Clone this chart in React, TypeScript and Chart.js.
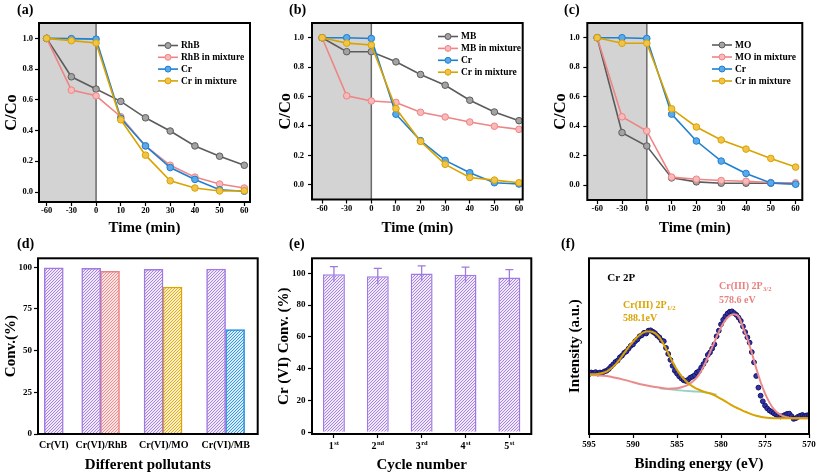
import React, { useEffect, useRef } from 'react';
import { Chart, registerables } from 'chart.js';

Chart.register(...registerables);

const SERIF = "'Liberation Serif', 'Times New Roman', Times, serif";

// ---------------- data: panels (a)-(c) ----------------
const timeLabels = ['-60', '-30', '0', '10', '20', '30', '40', '50', '60'];
const concTicks = [0, 0.2, 0.4, 0.6, 0.8, 1.0];

const rhb = [1.0, 0.75, 0.67, 0.59, 0.483, 0.397, 0.3, 0.233, 0.174];
const rhbMix = [1.0, 0.663, 0.626, 0.49, 0.3, 0.174, 0.097, 0.052, 0.026];
const crA = [1.0, 0.998, 0.995, 0.48, 0.3, 0.159, 0.082, 0.015, 0.005];
const crMixA = [1.0, 0.985, 0.97, 0.47, 0.24, 0.073, 0.026, 0.007, 0.008];

const mb = [1.0, 0.905, 0.905, 0.836, 0.75, 0.677, 0.575, 0.495, 0.436];
const mbMix = [1.0, 0.605, 0.57, 0.56, 0.493, 0.461, 0.427, 0.398, 0.377];
const crB = [1.0, 1.0, 0.995, 0.48, 0.3, 0.166, 0.082, 0.014, 0.005];
const crMixB = [1.0, 0.963, 0.95, 0.518, 0.295, 0.139, 0.05, 0.032, 0.014];

const mo = [1.0, 0.357, 0.266, 0.05, 0.023, 0.014, 0.014, 0.014, 0.01];
const moMix = [1.0, 0.464, 0.368, 0.055, 0.041, 0.032, 0.027, 0.018, 0.016];
const crC = [1.0, 1.0, 0.995, 0.482, 0.3, 0.164, 0.08, 0.016, 0.007];
const crMixC = [1.0, 0.963, 0.963, 0.518, 0.395, 0.307, 0.245, 0.182, 0.123];

// ---------------- data: panel (d) ----------------
const pollutants = ['Cr(VI)', 'Cr(VI)/RhB', 'Cr(VI)/MO', 'Cr(VI)/MB'];
const pollutantTickPos = [0.83, 3.33, 6.62, 9.88];
const crConvPos = [0.83, 2.8, 6.08, 9.37];
const crConv = [99.7, 99.4, 98.8, 99.0];
const dyeConvPos = [3.79, 7.08, 10.37];
const dyeConv = [97.6, 88.2, 62.6];
const convTicks = [0, 25, 50, 75, 100];

// ---------------- data: panel (e) ----------------
const cycleNum = ['1', '2', '3', '4', '5'];
const cycleSup = ['st', 'nd', 'rd', 'st', 'st'];
const cycleConv = [99.4, 98.1, 99.8, 99.0, 97.3];
const cycleErr = [4.8, 5.0, 4.8, 4.8, 5.0];
const cycleTicks = [0, 20, 40, 60, 80, 100];

// ---------------- data: panel (f) ----------------
const energyTicks = [595, 590, 585, 580, 575, 570];
const xpsEnergy = [
  595, 594.75, 594.5, 594.25, 594, 593.75, 593.5, 593.25, 593, 592.75, 592.5, 592.25, 592, 591.75, 591.5, 591.25,
  591, 590.75, 590.5, 590.25, 590, 589.75, 589.5, 589.25, 589, 588.75, 588.5, 588.25, 588, 587.75, 587.5, 587.25,
  587, 586.75, 586.5, 586.25, 586, 585.75, 585.5, 585.25, 585, 584.75, 584.5, 584.25, 584, 583.75, 583.5, 583.25,
  583, 582.75, 582.5, 582.25, 582, 581.75, 581.5, 581.25, 581, 580.75, 580.5, 580.25, 580, 579.75, 579.5, 579.25,
  579, 578.75, 578.5, 578.25, 578, 577.75, 577.5, 577.25, 577, 576.75, 576.5, 576.25, 576, 575.75, 575.5, 575.25,
  575, 574.75, 574.5, 574.25, 574, 573.75, 573.5, 573.25, 573, 572.75, 572.5, 572.25, 572, 571.75, 571.5, 571.25,
  571, 570.75, 570.5, 570.25, 570,
];
const xpsCounts = [
  34.0, 35.0, 34.6, 35.2, 34.4, 35.0, 34.8, 35.6, 36.0, 37.0, 38.4, 39.6, 41.0, 41.8, 43.6, 44.6,
  46.2, 47.0, 48.6, 50.2, 51.0, 52.8, 53.8, 55.6, 56.2, 57.6, 57.2, 58.8, 59.0, 58.2, 57.4, 56.0,
  55.0, 53.2, 52.8, 49.0, 45.6, 42.2, 38.8, 36.0, 34.4, 32.8, 31.6, 30.6, 30.2, 30.8, 32.0, 32.6,
  33.4, 35.0, 35.8, 37.8, 39.8, 41.8, 45.0, 46.4, 48.6, 51.0, 55.6, 58.8, 62.4, 65.0, 67.0, 68.6,
  69.6, 69.8, 68.8, 67.8, 66.2, 64.4, 61.2, 58.0, 55.0, 52.0, 46.6, 40.8, 33.0, 26.4, 21.8, 18.6,
  16.2, 14.6, 13.4, 12.6, 11.8, 11.0, 10.4, 10.0, 10.2, 10.8, 11.4, 11.6, 10.2, 8.6, 9.0, 9.8,
  10.4, 10.8, 10.2, 10.6, 10.8,
];
const fitHalfEnergy = [
  595, 594, 593, 592.5, 592, 591.5, 591, 590.5, 590, 589.5, 589, 588.5, 588, 587.5, 587, 586.5, 586, 585.5, 585,
  584.5, 584, 583.5, 583, 582.5, 582, 581.5, 581, 580.5, 580, 579.5, 579, 578.5, 578, 577.5, 577, 576.5, 576,
  575.5, 575, 574, 573, 572, 571, 570,
];
const fitHalf = [
  34.0, 34.2, 35.5, 37.3, 39.5, 42.5, 46.0, 49.5, 52.5, 55.2, 57.2, 58.3, 58.4, 57.4, 55.0, 51.0, 46.0, 41.0, 36.5,
  33.0, 30.2, 28.0, 26.4, 25.2, 24.2, 23.4, 22.6, 21.4, 20.0, 18.6, 17.0, 15.6, 14.4, 13.2, 12.2, 11.2, 10.4,
  9.8, 9.4, 9.0, 8.9, 8.9, 8.9, 8.9,
];
const fitThreeHalfEnergy = [
  595, 594, 593, 592, 591, 590, 589, 588, 587, 586, 585, 584.5, 584, 583.5, 583, 582.5, 582, 581.5, 581, 580.5,
  580, 579.5, 579, 578.6, 578, 577.5, 577, 576.5, 576, 575.5, 575, 574.5, 574, 573.5, 573, 572.5, 572, 571, 570,
];
const fitThreeHalf = [
  33.6, 33.4, 33.0, 32.0, 30.8, 29.5, 28.2, 27.2, 26.4, 25.8, 26.0, 26.6, 27.4, 28.8, 30.8, 33.8, 38.2, 43.6, 49.4, 55.2,
  60.6, 64.8, 67.4, 68.2, 66.8, 60.6, 54.2, 46.2, 37.4, 29.6, 23.1, 18.0, 14.2, 11.8, 10.3, 9.5, 9.0, 8.9, 8.9,
];
const bgEnergy = [587, 586, 585, 584, 583, 582, 581, 580.5];
const bgLevel = [26.0, 25.6, 25.0, 24.6, 24.2, 23.8, 23.0, 22.4];

// ---------------- helpers ----------------
type Box = { W: number; H: number; l: number; t: number; r: number; b: number };

const boxA: Box = { W: 272, H: 235, l: 39, t: 23, r: 250, b: 202 };
const boxB: Box = { W: 272, H: 235, l: 40, t: 23, r: 250.7, b: 199.5 };
const boxC: Box = { W: 273, H: 235, l: 43.3, t: 23, r: 258.3, b: 200 };
const boxD: Box = { W: 272, H: 240, l: 38, t: 23.3, r: 257.7, b: 199 };
const boxE: Box = { W: 272, H: 240, l: 40, t: 23.3, r: 259.3, b: 199 };
const boxF: Box = { W: 273, H: 240, l: 45, t: 23.3, r: 265, b: 199 };

const bold = (size: number, lineHeight = 1.2) => ({ family: SERIF, size, weight: 'bold' as const, lineHeight });

const tickGrid = {
  display: true,
  drawOnChartArea: false,
  drawTicks: true,
  tickLength: 4,
  tickColor: '#000',
  tickWidth: 1.2,
  color: '#000',
};

const fitY = (b: Box) => (s: any) => {
  s.width = b.l;
  s.paddingTop = 0;
  s.paddingBottom = 0;
  s.paddingLeft = 0;
  s.paddingRight = 0;
};
const fitX = (b: Box) => (s: any) => {
  s.height = b.H - b.b;
  s.paddingTop = 0;
  s.paddingBottom = 0;
  s.paddingLeft = 0;
  s.paddingRight = 0;
};
const layoutOf = (b: Box) => ({ padding: { left: 0, top: b.t, right: b.W - b.r, bottom: 0 } });
const useTicks = (vals: number[]) => (s: any) => {
  s.ticks = vals.map((v) => ({ value: v }));
};

const framePlugin = {
  id: 'frame',
  afterDraw(chart: any) {
    const { ctx, chartArea: a } = chart;
    ctx.save();
    ctx.strokeStyle = '#000';
    ctx.lineWidth = 2;
    ctx.strokeRect(a.left, a.top, a.right - a.left, a.bottom - a.top);
    ctx.restore();
  },
};

const shadePlugin = (endIndex: number) => ({
  id: 'shade',
  beforeDatasetsDraw(chart: any) {
    const { ctx, chartArea: a, scales } = chart;
    const px = scales.x.getPixelForValue(endIndex);
    ctx.save();
    ctx.fillStyle = '#d3d3d3';
    ctx.fillRect(a.left, a.top, px - a.left, a.bottom - a.top);
    ctx.strokeStyle = '#6a6a6a';
    ctx.lineWidth = 1.5;
    ctx.beginPath();
    ctx.moveTo(px, a.top);
    ctx.lineTo(px, a.bottom);
    ctx.stroke();
    ctx.restore();
  },
});

const legendPlugin = (leg: { x: number; y: number; dy: number }) => ({
  id: 'lineLegend',
  afterDraw(chart: any) {
    const ctx = chart.ctx;
    ctx.save();
    chart.data.datasets.forEach((ds: any, i: number) => {
      const y = leg.y + i * leg.dy;
      ctx.strokeStyle = ds.borderColor;
      ctx.lineWidth = 1.6;
      ctx.beginPath();
      ctx.moveTo(leg.x, y);
      ctx.lineTo(leg.x + 20, y);
      ctx.stroke();
      ctx.beginPath();
      ctx.arc(leg.x + 10, y, 3, 0, Math.PI * 2);
      ctx.fillStyle = ds.pointBackgroundColor;
      ctx.fill();
      ctx.lineWidth = 1;
      ctx.stroke();
      ctx.fillStyle = '#000';
      ctx.font = `bold 9.5px ${SERIF}`;
      ctx.textBaseline = 'middle';
      ctx.textAlign = 'left';
      ctx.fillText(ds.label, leg.x + 23, y + 0.5);
    });
    ctx.restore();
  },
});

type Series = { label: string; values: number[]; line: string; fill: string };

const GRAY = { line: '#5c5c5c', fill: '#a3a3a3' };
const PINK = { line: '#ef8484', fill: '#f7b9b9' };
const BLUE = { line: '#1f7fd0', fill: '#58aaea' };
const GOLD = { line: '#d9a300', fill: '#f1c449' };

function lineConfig(
  b: Box,
  series: Series[],
  xr: [number, number],
  yr: [number, number],
  pads: { yTitle: number; yTick: number; xTitle: number },
  leg: { x: number; y: number; dy: number },
) {
  const idx = timeLabels.map((_, i) => i);
  return {
    type: 'line',
    data: {
      datasets: series.map((s, k) => ({
        label: s.label,
        data: s.values.map((v, i) => ({ x: i, y: v })),
        borderColor: s.line,
        backgroundColor: s.fill,
        pointBackgroundColor: s.fill,
        pointBorderColor: s.line,
        pointRadius: 3.3,
        pointBorderWidth: 1,
        borderWidth: 1.6,
        order: series.length - k,
      })),
    },
    options: {
      responsive: false,
      animation: false,
      devicePixelRatio: 1,
      layout: layoutOf(b),
      plugins: { legend: { display: false }, tooltip: { enabled: false } },
      scales: {
        x: {
          type: 'linear',
          min: xr[0],
          max: xr[1],
          afterBuildTicks: useTicks(idx),
          afterFit: fitX(b),
          grid: tickGrid,
          border: { display: false },
          ticks: {
            color: '#000',
            font: bold(8.5),
            padding: 0,
            maxRotation: 0,
            autoSkip: false,
            callback: (v: number) => timeLabels[Math.round(v)],
          },
          title: {
            display: true,
            text: 'Time (min)',
            color: '#000',
            font: bold(15, 1),
            padding: { top: 0, bottom: pads.xTitle },
          },
        },
        y: {
          type: 'linear',
          min: yr[0],
          max: yr[1],
          afterBuildTicks: useTicks(concTicks),
          afterFit: fitY(b),
          grid: tickGrid,
          border: { display: false },
          ticks: { color: '#000', font: bold(8.5), padding: pads.yTick, callback: (v: number) => v.toFixed(1) },
          title: {
            display: true,
            text: 'C/Co',
            color: '#000',
            font: bold(16.5, 1),
            padding: { top: pads.yTitle, bottom: 0 },
          },
        },
      },
    },
    plugins: [shadePlugin(timeLabels.indexOf('0')), framePlugin, legendPlugin(leg)],
  };
}

function hatch(bg: string, fg: string) {
  const c = document.createElement('canvas');
  c.width = 3;
  c.height = 3;
  const g = c.getContext('2d')!;
  g.fillStyle = bg;
  g.fillRect(0, 0, 3, 3);
  g.strokeStyle = fg;
  g.lineWidth = 0.9;
  g.beginPath();
  g.moveTo(-1, 4);
  g.lineTo(4, -1);
  g.moveTo(-1, 1);
  g.lineTo(1, -1);
  g.moveTo(2, 4);
  g.lineTo(4, 2);
  g.stroke();
  return g.createPattern(c, 'repeat');
}

const PURPLE = { line: '#a07ae0', bg: '#f0e9fb', fg: '#9f78df' };
const BAR_PINK = { line: '#e98383', bg: '#fbe3e3', fg: '#ea8585' };
const BAR_GOLD = { line: '#dea400', bg: '#fcf0cc', fg: '#dea400' };
const BAR_BLUE = { line: '#1f8be0', bg: '#d9ecfb', fg: '#2390e2' };

function configA() {
  return lineConfig(
    boxA,
    [
      { label: 'RhB', values: rhb, ...GRAY },
      { label: 'RhB in mixture', values: rhbMix, ...PINK },
      { label: 'Cr', values: crA, ...BLUE },
      { label: 'Cr in mixture', values: crMixA, ...GOLD },
    ],
    [-0.31, 8.23],
    [-0.065, 1.1],
    { yTitle: 3.2, yTick: 2, xTitle: -0.8 },
    { x: 158, y: 45.5, dy: 11.8 },
  );
}
function configB() {
  return lineConfig(
    boxB,
    [
      { label: 'MB', values: mb, ...GRAY },
      { label: 'MB in mixture', values: mbMix, ...PINK },
      { label: 'Cr', values: crB, ...BLUE },
      { label: 'Cr in mixture', values: crMixB, ...GOLD },
    ],
    [-0.41, 8.15],
    [-0.1, 1.1],
    { yTitle: 5, yTick: 4, xTitle: -0.8 },
    { x: 166, y: 36.5, dy: 11.9 },
  );
}
function configC() {
  return lineConfig(
    boxC,
    [
      { label: 'MO', values: mo, ...GRAY },
      { label: 'MO in mixture', values: moMix, ...PINK },
      { label: 'Cr', values: crC, ...BLUE },
      { label: 'Cr in mixture', values: crMixC, ...GOLD },
    ],
    [-0.4, 8.27],
    [-0.1, 1.1],
    { yTitle: 8.4, yTick: 3.5, xTitle: -0.8 },
    { x: 168, y: 45, dy: 12 },
  );
}

function configD() {
  return {
    type: 'bar',
    data: {
      datasets: [
        {
          label: 'Cr(VI)',
          data: crConvPos.map((x, i) => ({ x, y: crConv[i] })),
          backgroundColor: hatch(PURPLE.bg, PURPLE.fg),
          borderColor: PURPLE.line,
          borderWidth: 1.5,
          barThickness: 19,
          grouped: false,
        },
        {
          label: 'Dye in mixture',
          data: dyeConvPos.map((x, i) => ({ x, y: dyeConv[i] })),
          backgroundColor: [hatch(BAR_PINK.bg, BAR_PINK.fg), hatch(BAR_GOLD.bg, BAR_GOLD.fg), hatch(BAR_BLUE.bg, BAR_BLUE.fg)],
          borderColor: [BAR_PINK.line, BAR_GOLD.line, BAR_BLUE.line],
          borderWidth: 1.5,
          barThickness: 19,
          grouped: false,
        },
      ],
    },
    options: {
      responsive: false,
      animation: false,
      devicePixelRatio: 1,
      layout: layoutOf(boxD),
      plugins: { legend: { display: false }, tooltip: { enabled: false } },
      scales: {
        x: {
          type: 'linear',
          min: 0,
          max: 11.56,
          offset: false,
          afterBuildTicks: useTicks(pollutantTickPos),
          afterFit: fitX(boxD),
          grid: { display: false, drawTicks: false },
          border: { display: false },
          ticks: {
            color: '#000',
            font: bold(10),
            padding: 5.7,
            maxRotation: 0,
            autoSkip: false,
            callback: (_v: number, i: number) => pollutants[i],
          },
          title: { display: true, text: 'Different pollutants', color: '#000', font: bold(15, 1), padding: { top: 0, bottom: 2.5 } },
        },
        y: {
          type: 'linear',
          min: 0,
          max: 105.4,
          afterBuildTicks: useTicks(convTicks),
          afterFit: fitY(boxD),
          grid: tickGrid,
          border: { display: false },
          ticks: { color: '#000', font: bold(9), padding: 2 },
          title: { display: true, text: 'Conv.(%)', color: '#000', font: bold(15, 1), padding: { top: 3.2, bottom: 0 } },
        },
      },
    },
    plugins: [framePlugin],
  };
}

const errorBarPlugin = {
  id: 'errorBars',
  afterDatasetsDraw(chart: any) {
    const { ctx, scales } = chart;
    const meta = chart.getDatasetMeta(0);
    ctx.save();
    ctx.strokeStyle = PURPLE.line;
    ctx.lineWidth = 1.3;
    meta.data.forEach((bar: any, i: number) => {
      const yt = scales.y.getPixelForValue(cycleConv[i] + cycleErr[i]);
      const yb = scales.y.getPixelForValue(cycleConv[i] - cycleErr[i]);
      ctx.beginPath();
      ctx.moveTo(bar.x, yt);
      ctx.lineTo(bar.x, yb);
      ctx.moveTo(bar.x - 4, yt);
      ctx.lineTo(bar.x + 4, yt);
      ctx.stroke();
    });
    ctx.restore();
  },
};

const cycleLabelPlugin = {
  id: 'cycleLabels',
  afterDraw(chart: any) {
    const { ctx, scales, chartArea } = chart;
    ctx.save();
    ctx.fillStyle = '#000';
    ctx.textAlign = 'left';
    ctx.textBaseline = 'alphabetic';
    cycleNum.forEach((n, i) => {
      const px = scales.x.getPixelForTick(i);
      ctx.font = `bold 10px ${SERIF}`;
      const w1 = ctx.measureText(n).width;
      ctx.font = `bold 6.5px ${SERIF}`;
      const w2 = ctx.measureText(cycleSup[i]).width;
      const start = px - (w1 + w2 + 0.5) / 2;
      const base = chartArea.bottom + 15;
      ctx.font = `bold 10px ${SERIF}`;
      ctx.fillText(n, start, base);
      ctx.font = `bold 6.5px ${SERIF}`;
      ctx.fillText(cycleSup[i], start + w1 + 0.5, base - 4);
    });
    ctx.restore();
  },
};

function configE() {
  return {
    type: 'bar',
    data: {
      labels: cycleNum.map((n, i) => n + cycleSup[i]),
      datasets: [
        {
          label: 'Cr(VI) conversion',
          data: cycleConv,
          backgroundColor: hatch(PURPLE.bg, PURPLE.fg),
          borderColor: PURPLE.line,
          borderWidth: 1.5,
          barPercentage: 0.5,
          categoryPercentage: 1,
        },
      ],
    },
    options: {
      responsive: false,
      animation: false,
      devicePixelRatio: 1,
      layout: layoutOf(boxE),
      plugins: { legend: { display: false }, tooltip: { enabled: false } },
      scales: {
        x: {
          type: 'category',
          offset: true,
          afterFit: fitX(boxE),
          grid: { ...tickGrid, offset: false },
          border: { display: false },
          ticks: { display: false },
          title: { display: true, text: 'Cycle number', color: '#000', font: bold(15, 1), padding: { top: 0, bottom: 2.5 } },
        },
        y: {
          type: 'linear',
          min: -1.07,
          max: 109.4,
          afterBuildTicks: useTicks(cycleTicks),
          afterFit: fitY(boxE),
          grid: tickGrid,
          border: { display: false },
          ticks: { color: '#000', font: bold(9), padding: 2.5 },
          title: { display: true, text: 'Cr (VI) Conv. (%)', color: '#000', font: bold(15, 1), padding: { top: 5, bottom: 0 } },
        },
      },
    },
    plugins: [errorBarPlugin, framePlugin, cycleLabelPlugin],
  };
}

const xpsTextPlugin = {
  id: 'xpsText',
  afterDraw(chart: any) {
    const ctx = chart.ctx;
    const a = chart.chartArea;
    ctx.save();
    ctx.textAlign = 'left';
    ctx.textBaseline = 'middle';
    const withSub = (main: string, sub: string, x: number, y: number, color: string) => {
      ctx.fillStyle = color;
      ctx.font = `bold 10px ${SERIF}`;
      ctx.fillText(main, x, y);
      const w = ctx.measureText(main).width;
      ctx.font = `bold 6.5px ${SERIF}`;
      ctx.fillText(sub, x + w + 0.5, y + 2.8);
    };
    ctx.fillStyle = '#000';
    ctx.font = `bold 11px ${SERIF}`;
    ctx.fillText('Cr 2P', a.left + 18.3, a.top + 20);
    withSub('Cr(III) 2P', '1/2', a.left + 34, a.top + 47.4, GOLD.line);
    ctx.font = `bold 10px ${SERIF}`;
    ctx.fillStyle = GOLD.line;
    ctx.fillText('588.1eV', a.left + 34, a.top + 60);
    withSub('Cr(III) 2P', '3/2', a.left + 130, a.top + 28.4, '#e98080');
    ctx.font = `bold 10px ${SERIF}`;
    ctx.fillStyle = '#e98080';
    ctx.fillText('578.6 eV', a.left + 130, a.top + 41.7);
    ctx.restore();
  },
};

function configF() {
  const pts = (xs: number[], ys: number[]) => xs.map((x, i) => ({ x, y: ys[i] }));
  return {
    type: 'scatter',
    data: {
      datasets: [
        {
          label: 'Cr(III) 2P1/2 fit',
          data: pts(fitHalfEnergy, fitHalf),
          showLine: true,
          borderColor: GOLD.line,
          borderWidth: 2,
          pointRadius: 0,
          cubicInterpolationMode: 'monotone',
          order: 0,
        },
        {
          label: 'Cr(III) 2P3/2 fit',
          data: pts(fitThreeHalfEnergy, fitThreeHalf),
          showLine: true,
          borderColor: '#eb8a8a',
          borderWidth: 2,
          pointRadius: 0,
          cubicInterpolationMode: 'monotone',
          order: 1,
        },
        {
          label: 'Background',
          data: pts(bgEnergy, bgLevel),
          showLine: true,
          borderColor: 'rgba(130,200,185,0.85)',
          borderWidth: 1.8,
          pointRadius: 0,
          cubicInterpolationMode: 'monotone',
          order: 2,
        },
        {
          label: 'Cr 2P data',
          data: pts(xpsEnergy, xpsCounts),
          showLine: false,
          pointRadius: 2.4,
          pointBackgroundColor: '#34349f',
          pointBorderColor: '#12126a',
          pointBorderWidth: 1,
          order: 3,
        },
      ],
    },
    options: {
      responsive: false,
      animation: false,
      devicePixelRatio: 1,
      layout: layoutOf(boxF),
      plugins: { legend: { display: false }, tooltip: { enabled: false } },
      scales: {
        x: {
          type: 'linear',
          min: 570,
          max: 595,
          reverse: true,
          afterBuildTicks: useTicks(energyTicks),
          afterFit: fitX(boxF),
          grid: tickGrid,
          border: { display: false },
          ticks: { color: '#000', font: bold(9), padding: 1, maxRotation: 0, autoSkip: false },
          title: { display: true, text: 'Binding energy (eV)', color: '#000', font: bold(15, 1), padding: { top: 0, bottom: 3.2 } },
        },
        y: {
          type: 'linear',
          min: 0,
          max: 100,
          afterFit: fitY(boxF),
          grid: { display: false },
          border: { display: false },
          ticks: { display: false },
          title: { display: true, text: 'Intensity (a.u.)', color: '#000', font: bold(15, 1), padding: { top: 24, bottom: 0 } },
        },
      },
    },
    plugins: [framePlugin, xpsTextPlugin],
  };
}

function Panel({ x, y, w, h, make }: { x: number; y: number; w: number; h: number; make: () => any }) {
  const ref = useRef<HTMLCanvasElement | null>(null);
  useEffect(() => {
    if (!ref.current) return;
    const chart = new Chart(ref.current, make());
    return () => chart.destroy();
  }, []);
  return (
    <div style={{ position: 'absolute', left: x, top: y, width: w, height: h }}>
      <canvas ref={ref} width={w} height={h} style={{ width: w, height: h, display: 'block' }} />
    </div>
  );
}

const tagStyle = (left: number, top: number): React.CSSProperties => ({
  position: 'absolute',
  left,
  top,
  font: `bold 14px ${SERIF}`,
  lineHeight: '14px',
  color: '#000',
  whiteSpace: 'nowrap',
});

export default function App() {
  return (
    <div style={{ position: 'absolute', left: 0, top: 0, width: 817, height: 475, background: '#fff', overflow: 'hidden' }}>
      <Panel x={0} y={0} w={272} h={235} make={configA} />
      <Panel x={272} y={0} w={272} h={235} make={configB} />
      <Panel x={544} y={0} w={273} h={235} make={configC} />
      <Panel x={0} y={235} w={272} h={240} make={configD} />
      <Panel x={272} y={235} w={272} h={240} make={configE} />
      <Panel x={544} y={235} w={273} h={240} make={configF} />
      <div style={tagStyle(17, 2.5)}>(a)</div>
      <div style={tagStyle(289, 2.5)}>(b)</div>
      <div style={tagStyle(564, 2.5)}>(c)</div>
      <div style={tagStyle(17, 236.5)}>(d)</div>
      <div style={tagStyle(289, 236.5)}>(e)</div>
      <div style={tagStyle(561, 236.5)}>(f)</div>
    </div>
  );
}
